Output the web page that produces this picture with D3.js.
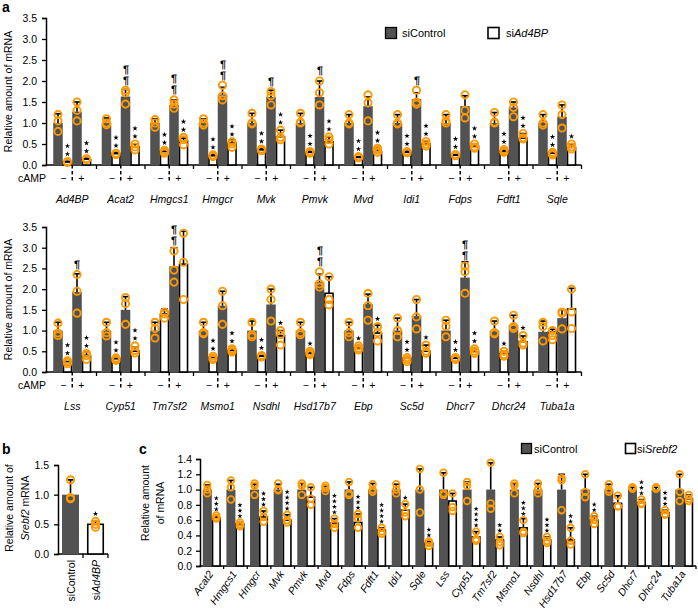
<!DOCTYPE html>
<html><head><meta charset="utf-8">
<script src="https://cdn.jsdelivr.net/npm/d3@7"></script>
<style>body{margin:0;background:#fff} svg{display:block;font-family:"Liberation Sans",Arial,Helvetica,sans-serif} .para{text-rendering:geometricPrecision}</style>
</head><body><svg id="c" width="698" height="615"></svg>
<script>
// ---------- DATA ----------
// order of bars in each group of panel a: siControl cAMP−, siAd4BP cAMP−, siControl cAMP+, siAd4BP cAMP+
const conditionsA = ["siControl−","siAd4BP−","siControl+","siAd4BP+"];
const yTicksA = [0,0.5,1,1.5,2,2.5,3,3.5];

const genesA1 = ["Ad4BP","Acat2","Hmgcs1","Hmgcr","Mvk","Pmvk","Mvd","Idi1","Fdps","Fdft1","Sqle"];
const meansA1 = [[1.0,0.07,1.27,0.14],[1.0,0.27,1.63,0.43],[1.0,0.32,1.43,0.58],[1.0,0.22,1.68,0.52],[1.0,0.36,1.62,0.67],[1.0,0.30,1.62,0.55],[1.0,0.18,1.40,0.32],[1.0,0.30,1.57,0.50],[1.0,0.23,1.40,0.45],[1.0,0.33,1.37,0.64],[1.0,0.28,1.15,0.42]];
const errA1 = [[1.22,0.09,1.50,0.16],[1.12,0.29,1.80,0.50],[1.10,0.36,1.55,0.64],[1.10,0.25,1.85,0.60],[1.23,0.40,1.78,0.83],[1.23,0.33,2.00,0.67],[1.20,0.20,1.62,0.42],[1.20,0.33,1.72,0.56],[1.20,0.25,1.65,0.50],[1.25,0.37,1.50,0.75],[1.20,0.30,1.43,0.50]];
const dotsA1 = [
 [[1.2,1.05,0.8],[0.08,0.07,0.06],[1.5,1.3,1.05],[0.15,0.14,0.13]],
 [[1.1,1.0,0.96],[0.28,0.26,0.25],[1.78,1.72,1.45],[0.5,0.43,0.36]],
 [[1.08,1.0,0.9],[0.35,0.31,0.28],[1.55,1.45,1.35],[0.66,0.6,0.48]],
 [[1.1,1.0,0.95],[0.24,0.22,0.2],[1.9,1.65,1.55],[0.55,0.5,0.42]],
 [[1.23,1.0,0.98],[0.38,0.36,0.34],[1.75,1.65,1.43],[0.83,0.66,0.6]],
 [[1.23,1.02,1.0],[0.32,0.3,0.28],[2.0,1.72,1.43],[0.67,0.6,0.5]],
 [[1.2,1.0,0.98],[0.2,0.18,0.17],[1.67,1.48,1.05],[0.4,0.35,0.3]],
 [[1.2,1.0,0.98],[0.32,0.3,0.29],[1.78,1.5,1.45],[0.56,0.5,0.45]],
 [[1.2,1.05,1.0],[0.25,0.23,0.22],[1.67,1.3,1.12],[0.5,0.43,0.4]],
 [[1.25,1.02,1.0],[0.37,0.33,0.3],[1.5,1.37,1.15],[0.75,0.65,0.62]],
 [[1.2,1.0,0.95],[0.3,0.27,0.24],[1.43,1.2,0.88],[0.5,0.43,0.38]]];
const starsA1 = [[0,2,0,2],[0,2,0,2],[0,2,0,2],[0,2,0,2],[0,2,0,2],[0,2,0,2],[0,2,0,2],[0,2,0,2],[0,2,0,2],[0,2,0,2],[0,2,0,1]];
const parasA1 = [[0,0,0,0],[0,0,2,0],[0,0,2,0],[0,0,2,0],[0,0,1,0],[0,0,1,0],[0,0,0,0],[0,0,1,0],[0,0,0,0],[0,0,0,0],[0,0,0,0]];

const genesA2 = ["Lss","Cyp51","Tm7sf2","Msmo1","Nsdhl","Hsd17b7","Ebp","Sc5d","Dhcr7","Dhcr24","Tuba1a"];
const meansA2 = [[1.0,0.25,1.93,0.40],[1.0,0.32,1.50,0.50],[1.0,1.40,2.55,2.60],[1.0,0.35,1.60,0.52],[1.0,0.38,1.63,0.87],[1.0,0.45,2.17,1.90],[1.0,0.58,1.64,0.94],[1.0,0.33,1.35,0.50],[1.0,0.33,2.28,0.50],[1.0,0.45,1.13,0.73],[0.97,0.97,1.30,1.52]];
const errA2 = [[1.20,0.27,2.37,0.48],[1.20,0.35,1.82,0.60],[1.20,1.52,3.00,3.40],[1.20,0.38,1.95,0.56],[1.23,0.40,2.00,1.00],[1.20,0.50,2.36,2.30],[1.20,0.63,1.88,1.13],[1.30,0.36,1.75,0.65],[1.25,0.36,2.66,0.56],[1.23,0.50,1.37,0.87],[1.23,1.03,1.50,2.02]];
const dotsA2 = [
 [[1.18,0.94,0.88],[0.27,0.24,0.2],[2.35,1.95,1.42],[0.45,0.4,0.3]],
 [[1.2,0.95,0.87],[0.34,0.3,0.28],[1.8,1.65,1.15],[0.63,0.52,0.46]],
 [[1.2,1.05,0.82],[1.45,1.4,1.3],[2.92,2.46,2.17],[3.35,2.65,1.75]],
 [[1.2,0.95,0.92],[0.38,0.33,0.3],[1.95,1.6,1.15],[0.56,0.52,0.48]],
 [[1.2,0.9,0.85],[0.4,0.38,0.36],[2.0,1.75,1.23],[1.0,0.9,0.65]],
 [[1.2,0.95,0.9],[0.5,0.45,0.42],[2.42,2.13,2.05],[2.3,1.75,1.62]],
 [[1.2,0.95,0.85],[0.63,0.57,0.53],[1.9,1.6,1.25],[1.1,0.95,0.75]],
 [[1.3,1.0,0.85],[0.35,0.3,0.25],[1.75,1.33,1.04],[0.65,0.5,0.45]],
 [[1.25,1.1,0.85],[0.35,0.32,0.3],[2.56,2.42,1.9],[0.56,0.5,0.45]],
 [[1.23,0.95,0.92],[0.5,0.42,0.38],[1.37,1.1,1.05],[0.88,0.7,0.65]],
 [[1.2,1.1,0.75],[1.0,0.88,0.78],[1.45,1.42,1.04],[2.0,1.45,1.05]]];
const starsA2 = [[0,2,0,2],[0,2,0,2],[0,0,0,0],[0,2,0,2],[0,2,0,1],[0,1,0,0],[0,1,0,1],[0,2,0,1],[0,2,0,2],[0,1,0,1],[0,0,0,0]];
const parasA2 = [[0,0,1,0],[0,0,0,0],[0,0,2,0],[0,0,0,0],[0,0,0,0],[0,0,2,0],[0,0,0,0],[0,0,0,0],[0,0,2,0],[0,0,0,0],[0,0,0,0]];

// panel b
const groupsB = ["siControl","siAd4BP"];
const meansB = [1.0,0.5];
const errB = [1.25,0.55];
const dotsB = [[1.25,0.95,0.93],[0.55,0.5,0.45]];
const starsB = [0,1];
const yTicksB = [0,0.5,1,1.5];

// panel c: siControl vs siSrebf2
const genesC = ["Acat2","Hmgcs1","Hmgcr","Mvk","Pmvk","Mvd","Fdps","Fdft1","Idi1","Sqle","Lss","Cyp51","Tm7sf2","Msmo1","Nsdhl","Hsd17b7","Ebp","Sc5d","Dhcr7","Dhcr24","Tuba1a"];
const ctrlMeansC = [1,1,1,1,1,1,1,1,1,1,1,1,1,1,1,1,1,1,1,1,1];
const ctrlErrC = [1.06,1.12,1.07,1.07,1.08,1.05,1.10,1.08,1.07,1.27,1.22,1.10,1.35,1.08,1.08,1.20,1.20,1.07,1.03,1.03,1.20];
const ctrlDotsC = [[1.06,1.0,0.95],[1.12,1.03,0.87],[1.08,1.05,0.93],[1.08,1.0,0.99],[1.08,1.05,0.93],[1.05,1.02,0.98],[1.1,0.95,0.93],[1.07,1.0,0.97],[1.07,1.0,0.95],[1.27,1.0,0.7],[1.22,0.95,0.93],[1.1,1.05,0.85],[1.35,0.82,0.75],[1.08,1.05,0.95],[1.08,1.0,0.95],[1.15,1.12,0.73],[1.2,0.97,0.9],[1.07,1.0,0.97],[1.03,1.02,1.01],[1.03,1.02,1.01],[1.2,0.97,0.85]];
const siMeansC = [0.63,0.55,0.64,0.60,0.90,0.56,0.57,0.47,0.73,0.30,0.85,0.38,0.34,0.50,0.34,0.34,0.60,0.82,0.83,0.70,0.88];
const siErrC = [0.66,0.57,0.72,0.67,1.03,0.62,0.68,0.50,0.81,0.32,0.95,0.45,0.38,0.62,0.38,0.50,0.65,0.92,0.87,0.73,0.93];
const siDotsC = [[0.66,0.63,0.62],[0.57,0.54,0.52],[0.72,0.64,0.58],[0.67,0.6,0.57],[1.03,0.88,0.8],[0.62,0.55,0.5],[0.68,0.62,0.5],[0.5,0.45,0.42],[0.81,0.7,0.65],[0.32,0.3,0.26],[0.95,0.77,0.72],[0.45,0.35,0.33],[0.38,0.31,0.27],[0.6,0.45,0.43],[0.38,0.33,0.3],[0.5,0.33,0.28],[0.65,0.6,0.55],[0.92,0.78,0.78],[0.87,0.82,0.81],[0.73,0.68,0.67],[0.93,0.88,0.85]];
const siStarsC = [3,3,3,4,0,4,3,4,1,2,0,4,2,3,3,2,2,0,3,3,0];
const yTicksC = [0,0.2,0.4,0.6,0.8,1.0,1.2,1.4];

// ---------- DRAWING ----------
const svg = d3.select("#c");
const DARK = "#525252", ORANGE = "#FF9900";

function styleAxis(sel, fs) {
  sel.select(".domain").attr("stroke","#000").attr("stroke-width",1.5);
  sel.selectAll(".tick line").attr("stroke","#000").attr("stroke-width",1.3);
  sel.selectAll(".tick text").attr("fill","#000").style("font-size",fs+"px").style("font-family",'"Liberation Sans",Arial,sans-serif');
}

function drawBar(g, cx, w, y, mean, err, pts, nStar, nPara, dark, o) {
  g.append("rect").attr("x", cx - w/2 + (dark?0:0.75)).attr("y", y(mean))
    .attr("width", w - (dark?0:1.5)).attr("height", y(0) - y(mean))
    .attr("fill", dark ? DARK : "#fff").attr("stroke", dark ? "none" : "#000").attr("stroke-width", dark ? 0 : 1.6);
  g.append("line").attr("x1",cx).attr("x2",cx).attr("y1",y(mean)).attr("y2",y(err)).attr("stroke","#000").attr("stroke-width",1.6);
  g.append("line").attr("x1",cx-o.cap).attr("x2",cx+o.cap).attr("y1",y(err)).attr("y2",y(err)).attr("stroke","#000").attr("stroke-width",1.6);
  pts.forEach(v => g.append("circle").attr("cx",cx).attr("cy",y(v)).attr("r",o.r)
    .attr("fill","none").attr("stroke",ORANGE).attr("stroke-width",o.sw));
  const top = Math.min(y(err), ...pts.map(v => y(v) - o.r));
  const star = d3.symbol(d3.symbolStar).size(o.starSize);
  for (let i = 0; i < nStar; i++) {
    g.append("path").attr("d", star).attr("fill","#000")
      .attr("transform", `translate(${cx},${top - o.starOff - i*o.starGap})`);
  }
  if (nPara > 0) {
    const t = g.append("text").attr("class","para").attr("text-anchor","middle").attr("fill","#000")
      .style("font-family",'"Liberation Sans",Arial,sans-serif').style("font-size","11px").style("font-weight","bold");
    for (let i = 0; i < nPara; i++) {
      t.append("tspan").attr("x",Math.round(cx)).attr("y", Math.round(top - 3 - i*11)).text("¶");
    }
  }
}

function panelA(genes, means, errs, dots, stars, paras, base, topY) {
  const g = svg.append("g");
  const x = d3.scaleBand().domain(genes).range([48, 581.5]);
  const xi = d3.scaleBand().domain(conditionsA).range([0, x.bandwidth()]).paddingOuter(0.55);
  const y = d3.scaleLinear().domain([0,3.5]).range([base, topY]);
  const ya = g.append("g").attr("transform","translate(46,0)")
    .call(d3.axisLeft(y).tickValues(yTicksA).tickFormat(d3.format(".1f")).tickSizeOuter(0).tickSize(4).tickPadding(5));
  styleAxis(ya, 10.5);
  g.append("line").attr("x1",45.5).attr("x2",581.5).attr("y1",base).attr("y2",base).attr("stroke","#000").attr("stroke-width",1.5);
  genes.forEach((gene,i) => {
    const bx = x(gene) + x.bandwidth();
    g.append("line").attr("x1",bx).attr("x2",bx).attr("y1",base).attr("y2",base+4).attr("stroke","#000").attr("stroke-width",1.3);
    conditionsA.forEach((c,j) => {
      const cx = x(gene) + xi(c) + xi.bandwidth()/2;
      drawBar(g, cx, xi.bandwidth(), y, means[i][j], errs[i][j], dots[i][j], stars[i][j], paras[i][j], j%2===0,
        {cap:3.5, r:3.6, sw:1.9, starSize:9, starOff:4, starGap:8});
    });
    const cx = x(gene) + x.bandwidth()/2;
    g.append("line").attr("x1",cx).attr("x2",cx).attr("y1",base).attr("y2",base+18)
      .attr("stroke","#000").attr("stroke-width",1.5).attr("stroke-dasharray","3.5,2.5");
    g.append("text").attr("x",cx-9).attr("y",base+17).attr("text-anchor","middle").style("font-size","10.5px").text("−");
    g.append("text").attr("x",cx+9).attr("y",base+17).attr("text-anchor","middle").style("font-size","10.5px").text("+");
    g.append("text").attr("x",cx).attr("y",base+38).attr("text-anchor","middle").style("font-size","10.5px").style("font-style","italic").text(gene);
  });
  g.append("text").attr("x",46).attr("y",base+17).attr("text-anchor","end").style("font-size","10.5px").text("cAMP");
  g.append("text").attr("transform",`translate(12,${(base+topY)/2}) rotate(-90)`).attr("text-anchor","middle")
    .style("font-size","10.5px").text("Relative amount of mRNA");
}

panelA(genesA1, meansA1, errA1, dotsA1, starsA1, parasA1, 165, 18);
panelA(genesA2, meansA2, errA2, dotsA2, starsA2, parasA2, 372, 227);

// panel a legend
svg.append("rect").attr("x",385.5).attr("y",27.5).attr("width",11).attr("height",11).attr("fill",DARK).attr("stroke","#000").attr("stroke-width",1.3);
svg.append("text").attr("x",402).attr("y",37).style("font-size","11px").text("siControl");
svg.append("rect").attr("x",488).attr("y",27.5).attr("width",11).attr("height",11).attr("fill","#fff").attr("stroke","#000").attr("stroke-width",1.6);
const la = svg.append("text").attr("x",506).attr("y",37).style("font-size","11px");
la.append("tspan").text("si"); la.append("tspan").style("font-style","italic").text("Ad4BP");

// panel letters
svg.append("text").attr("x",2).attr("y",12).style("font-size","14px").style("font-weight","bold").text("a");
svg.append("text").attr("x",2).attr("y",454).style("font-size","14px").style("font-weight","bold").text("b");
svg.append("text").attr("x",139).attr("y",454).style("font-size","14px").style("font-weight","bold").text("c");

// ---------- panel b ----------
{
  const g = svg.append("g");
  const x = d3.scaleBand().domain(groupsB).range([58,108]).paddingInner(0.32).paddingOuter(0.16);
  const y = d3.scaleLinear().domain([0,1.5]).range([554,465]);
  const ya = g.append("g").attr("transform","translate(58,0)")
    .call(d3.axisLeft(y).tickValues(yTicksB).tickFormat(d3.format(".1f")).tickSizeOuter(0).tickSize(4).tickPadding(5));
  styleAxis(ya, 10.5);
  g.append("line").attr("x1",57.5).attr("x2",108).attr("y1",554).attr("y2",554).attr("stroke","#000").attr("stroke-width",1.5);
  [83,108].forEach(bx => g.append("line").attr("x1",bx).attr("x2",bx).attr("y1",554).attr("y2",558).attr("stroke","#000").attr("stroke-width",1.3));
  groupsB.forEach((k,i) => {
    const cx = x(k) + x.bandwidth()/2;
    drawBar(g, cx, x.bandwidth(), y, meansB[i], errB[i], dotsB[i], starsB[i], 0, i===0,
      {cap:4, r:3.6, sw:1.9, starSize:9, starOff:4, starGap:8});
  });
  g.append("text").attr("transform","translate(75,560) rotate(-90)").attr("text-anchor","end").style("font-size","10.5px").text("siControl");
  const t2 = g.append("text").attr("transform","translate(100,560) rotate(-90)").attr("text-anchor","end").style("font-size","10.5px");
  t2.append("tspan").text("si"); t2.append("tspan").style("font-style","italic").text("Ad4BP");
  const l = g.append("text").attr("transform","translate(0,508) rotate(-90)").attr("text-anchor","middle").style("font-size","10.5px");
  l.append("tspan").attr("x",0).attr("y",13).text("Relative amount of");
  l.append("tspan").attr("x",0).attr("y",29).style("font-style","italic").text("Srebf2");
  l.append("tspan").text(" mRNA");
}

// ---------- panel c ----------
{
  const g = svg.append("g");
  const x = d3.scaleBand().domain(genesC).range([200,696]);
  const xi = d3.scaleBand().domain(["siControl","siSrebf2"]).range([0,x.bandwidth()]).paddingOuter(0.31);
  const y = d3.scaleLinear().domain([0,1.4]).range([566,459]);
  const ya = g.append("g").attr("transform","translate(200,0)")
    .call(d3.axisLeft(y).tickValues(yTicksC).tickFormat(d3.format(".1f")).tickSizeOuter(0).tickSize(4).tickPadding(4));
  styleAxis(ya, 10.5);
  g.append("line").attr("x1",199.5).attr("x2",696).attr("y1",566).attr("y2",566).attr("stroke","#000").attr("stroke-width",1.5);
  genesC.forEach((gene,i) => {
    const bx = x(gene) + x.bandwidth();
    g.append("line").attr("x1",bx).attr("x2",bx).attr("y1",566).attr("y2",569).attr("stroke","#000").attr("stroke-width",1.3);
    const c1 = x(gene) + xi("siControl") + xi.bandwidth()/2;
    const c2 = x(gene) + xi("siSrebf2") + xi.bandwidth()/2;
    const o = {cap:3.2, r:3.3, sw:1.8, starSize:8, starOff:3, starGap:5.5};
    drawBar(g, c1, xi.bandwidth(), y, ctrlMeansC[i], ctrlErrC[i], ctrlDotsC[i], 0, 0, true, o);
    drawBar(g, c2, xi.bandwidth(), y, siMeansC[i], siErrC[i], siDotsC[i], siStarsC[i], 0, false, o);
    const cx = x(gene) + x.bandwidth()/2;
    g.append("text").attr("transform",`translate(${cx+2},574) rotate(-55)`).attr("text-anchor","end")
      .style("font-size","10.5px").style("font-style","italic").text(gene);
  });
  const l = g.append("text").attr("transform","translate(0,503) rotate(-90)").attr("text-anchor","middle").style("font-size","10.5px");
  l.append("tspan").attr("x",0).attr("y",149).text("Relative amount");
  l.append("tspan").attr("x",0).attr("y",164).text("of mRNA");
  // legend
  g.append("rect").attr("x",521.5).attr("y",443.5).attr("width",10).attr("height",10).attr("fill",DARK).attr("stroke","#000").attr("stroke-width",1.3);
  g.append("text").attr("x",534).attr("y",453).style("font-size","11px").text("siControl");
  g.append("rect").attr("x",625.5).attr("y",443.5).attr("width",10).attr("height",10).attr("fill","#fff").attr("stroke","#000").attr("stroke-width",1.6);
  const lc = g.append("text").attr("x",637).attr("y",453).style("font-size","11px");
  lc.append("tspan").text("si"); lc.append("tspan").style("font-style","italic").text("Srebf2");
}
</script></body></html>
